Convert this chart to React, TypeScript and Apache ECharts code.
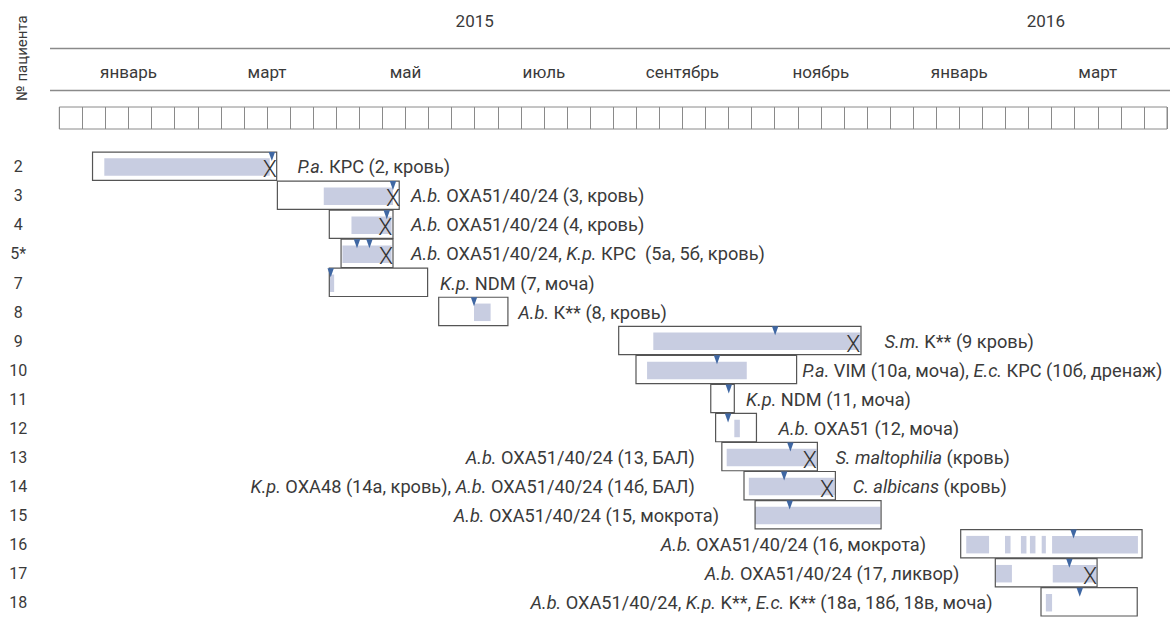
import React, { useEffect, useRef } from 'react';
import * as echarts from 'echarts';

// ---------- data (time in months from 1 Jan 2015) ----------
const patients = ['2', '3', '4', '5*', '7', '8', '9', '10', '11', '12', '13', '14', '15', '16', '17', '18'];
const monthLabels = ['январь', 'март', 'май', 'июль', 'сентябрь', 'ноябрь', 'январь', 'март'];
const years = ['2015', '2016'];
const yearAt = [6, 14.25];
const TOTAL_MONTHS = 16;
const CELLS = 48; // three decades per month

// hospital stay (outlined boxes)
const stayStart = [0.48, 3.15, 3.9, 4.07, 3.9, 5.48, 8.08, 8.33, 9.41, 9.48, 9.57, 9.89, 10.05, 13.02, 13.52, 14.18];
const stayEnd = [3.14, 4.91, 4.82, 4.82, 5.32, 6.48, 11.58, 10.65, 9.75, 10.07, 10.95, 11.21, 11.87, 15.64, 14.99, 15.57];

// antibiotic therapy periods: [start, end, row]
const therapy = [
  [0.65, 3.04, 0],
  [3.82, 4.82, 1],
  [4.22, 4.8, 2],
  [4.09, 4.8, 3],
  [3.9, 3.97, 4],
  [5.99, 6.23, 5],
  [8.58, 11.57, 6],
  [8.49, 9.93, 7],
  [9.75, 9.83, 9],
  [9.64, 10.94, 10],
  [9.96, 11.2, 11],
  [10.05, 11.86, 12],
  [13.1, 13.43, 13],
  [13.66, 13.74, 13],
  [13.89, 13.97, 13],
  [14.02, 14.1, 13],
  [14.19, 14.25, 13],
  [14.34, 15.58, 13],
  [13.53, 13.76, 14],
  [14.35, 14.98, 14],
  [14.25, 14.34, 15],
];

// positive cultures (triangles): [time, row]
const cultures = [
  [3.07, 0], [4.82, 1], [4.73, 2], [4.3, 3], [4.48, 3], [3.92, 4], [5.99, 5], [10.34, 6],
  [9.5, 7], [9.67, 8], [9.66, 9], [10.56, 10], [10.47, 11], [10.55, 12], [14.65, 13], [14.59, 14], [14.74, 15],
];

// deaths (X): [time, row]
const deaths = [[3.04, 0], [4.82, 1], [4.71, 2], [4.72, 3], [11.47, 6], [10.84, 10], [11.09, 11], [14.89, 14]];

// labels
const rightLabels = [
  '{i|P.a.} КРС (2, кровь)',
  '{i|A.b.} OXA51/40/24 (3, кровь)',
  '{i|A.b.} OXA51/40/24 (4, кровь)',
  '{i|A.b.} OXA51/40/24, {i|K.p.} КРС  (5а, 5б, кровь)',
  '{i|K.p.} NDM (7, моча)',
  '{i|A.b.} К** (8, кровь)',
  '{i|S.m.} K** (9 кровь)',
  '{i|P.a.} VIM (10а, моча), {i|E.c.} КРС (10б, дренаж)',
  '{i|K.p.} NDM (11, моча)',
  '{i|A.b.} OXA51 (12, моча)',
  '{i|S. maltophilia} (кровь)',
  '{i|C. albicans} (кровь)',
  '', '', '', '',
];
const rightLabelAt = [3.44, 5.08, 5.08, 5.08, 5.5, 6.63, 11.92, 10.73, 9.92, 10.39, 11.21, 11.46, 0, 0, 0, 0];
const leftLabels = [
  '', '', '', '', '', '', '', '', '', '',
  '{i|A.b.} OXA51/40/24 (13, БАЛ)',
  '{i|K.p.} OXA48 (14а, кровь), {i|A.b.} OXA51/40/24 (14б, БАЛ)',
  '{i|A.b.} OXA51/40/24 (15, мокрота)',
  '{i|A.b.} OXA51/40/24 (16, мокрота)',
  '{i|A.b.} OXA51/40/24 (17, ликвор)',
  '{i|A.b.} OXA51/40/24, {i|K.p.} K**, {i|E.c.} K** (18а, 18б, 18в, моча)',
];
const leftLabelAt = [0, 0, 0, 0, 0, 0, 0, 0, 0, 0, 9.18, 9.18, 9.53, 12.52, 13.0, 13.48];

// ---------- layout ----------
const L = 59.3;
const W = 1107.7;
const PXM = W / TOTAL_MONTHS;
const FONT = 'Roboto, "Noto Sans", sans-serif';
const TXT = '#3a3a3a';
const LBL = 18.2;

export default function App() {
  const ref = useRef<HTMLDivElement>(null);
  useEffect(() => {
    const chart = echarts.init(ref.current!, null, { renderer: 'svg' });
    const rich = { i: { fontStyle: 'italic', fontFamily: FONT, fontSize: LBL, fill: TXT, color: TXT } };

    const labelData: any[] = [];
    patients.forEach((_, i) => {
      if (rightLabels[i]) labelData.push([rightLabelAt[i], i, rightLabels[i], 'left']);
      if (leftLabels[i]) labelData.push([leftLabelAt[i], i, leftLabels[i], 'right']);
    });

    const option: any = {
      animation: false,
      grid: [
        { left: L, width: W, top: 152.33, height: 469.33 },
        { left: L, width: W, top: 107, height: 22, show: true, borderColor: '#8a8a8a', borderWidth: 1 },
        { left: L, width: W, top: 48, height: 42 },
      ],
      xAxis: [
        { gridIndex: 0, type: 'value', min: 0, max: TOTAL_MONTHS, show: false },
        {
          gridIndex: 1, type: 'value', min: 0, max: CELLS, interval: 1,
          axisLine: { show: false }, axisTick: { show: false }, axisLabel: { show: false },
          splitLine: { show: true, lineStyle: { color: '#8a8a8a', width: 1 } },
        },
        {
          gridIndex: 2, type: 'category', data: monthLabels, boundaryGap: true, position: 'bottom',
          axisLine: { show: false }, axisTick: { show: false },
          axisLabel: { inside: true, margin: 10, fontSize: 17, color: TXT, fontFamily: FONT },
        },
      ],
      yAxis: [
        {
          gridIndex: 0, type: 'category', data: patients, inverse: true,
          axisLine: { show: false }, axisTick: { show: false }, splitLine: { show: false },
          axisLabel: { align: 'center', margin: 41, fontSize: 16, color: TXT, fontFamily: FONT },
        },
        { gridIndex: 1, type: 'value', show: false, min: 0, max: 1 },
        { gridIndex: 2, type: 'value', show: false, min: 0, max: 1 },
      ],
      graphic: [
        { type: 'line', shape: { x1: 50, y1: 48.5, x2: 1170, y2: 48.5 }, style: { stroke: '#8a8a8a', lineWidth: 1.3 } },
        { type: 'line', shape: { x1: 50, y1: 90.5, x2: 1170, y2: 90.5 }, style: { stroke: '#8a8a8a', lineWidth: 1.3 } },
        ...years.map((y, k) => ({
          type: 'text', x: L + yearAt[k] * PXM, y: 21,
          style: { text: y, fontSize: 17, fontFamily: FONT, fill: TXT, align: 'center', verticalAlign: 'middle' },
        })),
        {
          type: 'text', x: 22, y: 58, rotation: Math.PI / 2,
          style: { text: '№ пациента', fontSize: 15, fontFamily: FONT, fill: TXT, align: 'center', verticalAlign: 'middle' },
        },
      ],
      series: [
        {
          type: 'custom', xAxisIndex: 0, yAxisIndex: 0, data: therapy, z: 1,
          renderItem: (params: any, api: any) => {
            const s = api.coord([api.value(0), api.value(2)]);
            const e = api.coord([api.value(1), api.value(2)]);
            return {
              type: 'rect',
              shape: { x: s[0], y: s[1] - 8.5, width: Math.max(e[0] - s[0], 1), height: 17.5 },
              style: { fill: '#c8cde1' },
            };
          },
        },
        {
          type: 'custom', xAxisIndex: 0, yAxisIndex: 0, z: 2,
          data: patients.map((_, i) => [stayStart[i], stayEnd[i], i]),
          renderItem: (params: any, api: any) => {
            const s = api.coord([api.value(0), api.value(2)]);
            const e = api.coord([api.value(1), api.value(2)]);
            return {
              type: 'rect',
              shape: { x: s[0], y: s[1] - 14.8, width: e[0] - s[0], height: 28.3 },
              style: { fill: 'none', stroke: '#555555', lineWidth: 1.2 },
            };
          },
        },
        {
          type: 'custom', xAxisIndex: 0, yAxisIndex: 0, data: cultures, z: 3,
          renderItem: (params: any, api: any) => {
            const p = api.coord([api.value(0), api.value(1)]);
            const top = p[1] - 14.8;
            return {
              type: 'polygon',
              shape: { points: [[p[0] - 3.2, top], [p[0] + 3.2, top], [p[0], top + 9]] },
              style: { fill: '#3f67a3' },
            };
          },
        },
        {
          type: 'custom', xAxisIndex: 0, yAxisIndex: 0, data: deaths, z: 4,
          renderItem: (params: any, api: any) => {
            const p = api.coord([api.value(0), api.value(1)]);
            return {
              type: 'text', x: p[0], y: p[1] + 3,
              style: {
                text: 'X', fontSize: 23, fontWeight: 300, fontFamily: FONT, fill: '#333333',
                align: 'center', verticalAlign: 'middle',
              },
            };
          },
        },
        {
          type: 'custom', xAxisIndex: 0, yAxisIndex: 0, data: labelData, z: 5,
          renderItem: (params: any, api: any) => {
            const d = labelData[params.dataIndex];
            const p = api.coord([d[0], d[1]]);
            return {
              type: 'text', x: p[0], y: p[1],
              style: {
                text: d[2], rich, fontSize: LBL, fontFamily: FONT, fill: TXT,
                align: d[3], verticalAlign: 'middle',
              },
            };
          },
        },
      ],
    };
    chart.setOption(option);
    return () => chart.dispose();
  }, []);
  return <div ref={ref} style={{ position: 'absolute', left: 0, top: 0, width: 1170, height: 617 }} />;
}
